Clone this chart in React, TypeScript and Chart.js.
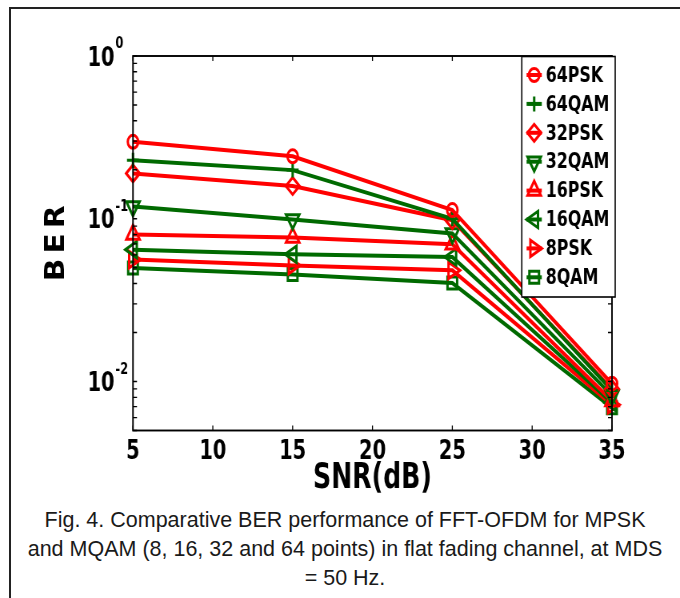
import React, { useEffect, useRef } from 'react';
import { Chart, registerables } from 'chart.js';
import { drawPoint } from 'chart.js/helpers';

Chart.register(...registerables);

// ---------- data ----------
const SNR_DB = [5, 15, 25, 35];
const SERIES_NAMES = ['64PSK', '64QAM', '32PSK', '32QAM', '16PSK', '16QAM', '8PSK', '8QAM'];
const BER_64PSK = [0.297, 0.242, 0.113, 0.0097];
const BER_64QAM = [0.229, 0.199, 0.1, 0.0088];
const BER_32PSK = [0.19, 0.159, 0.098, 0.009];
const BER_32QAM = [0.119, 0.0989, 0.0811, 0.0082];
const BER_16PSK = [0.08, 0.0766, 0.0697, 0.0076];
const BER_16QAM = [0.0646, 0.0605, 0.0582, 0.0074];
const BER_8PSK = [0.0561, 0.0517, 0.0482, 0.0072];
const BER_8QAM = [0.0498, 0.0455, 0.0403, 0.0069];
const SERIES_VALUES = [BER_64PSK, BER_64QAM, BER_32PSK, BER_32QAM, BER_16PSK, BER_16QAM, BER_8PSK, BER_8QAM];

const X_MIN = 5;
const X_MAX = 35;
const X_STEP = 5;
const X_TICKS = [5, 10, 15, 20, 25, 30, 35];
const Y_MIN = 0.005;
const Y_MAX = 1;
const Y_DECADES = [1, 0.1, 0.01];
const Y_EXPONENTS = ['0', '-1', '-2'];

const X_TITLE = 'SNR(dB)';
const Y_TITLE = 'BER';
const CAPTION_LINES = [
  'Fig. 4. Comparative BER performance of FFT-OFDM for MPSK',
  'and MQAM (8, 16, 32 and 64 points) in flat fading channel, at MDS',
  '= 50 Hz.',
];

// ---------- styles ----------
const K = 0.8; // horizontal squeeze of the figure
const W = 850;
const H = 500;
const FONT = "'DejaVu Sans Condensed', 'DejaVu Sans', sans-serif";
const RED = '#ff0000';
const GREEN = '#006a00';
const STYLES = [
  { color: RED, pointStyle: 'circle', rotation: 0, radius: 6.5 },
  { color: GREEN, pointStyle: 'cross', rotation: 0, radius: 7.5 },
  { color: RED, pointStyle: 'rectRot', rotation: 0, radius: 8.5 },
  { color: GREEN, pointStyle: 'triangle', rotation: 180, radius: 9.5 },
  { color: RED, pointStyle: 'triangle', rotation: 0, radius: 9.5 },
  { color: GREEN, pointStyle: 'triangle', rotation: 270, radius: 9.5 },
  { color: RED, pointStyle: 'triangle', rotation: 90, radius: 9.5 },
  { color: GREEN, pointStyle: 'rect', rotation: 0, radius: 8.5 },
];

const framePlugin = {
  id: 'frame',
  afterDatasetsDraw(chart: any) {
    const { ctx, chartArea: a, scales } = chart;
    const xs = scales.x;
    const ys = scales.y;
    ctx.save();

    // inward tick marks
    ctx.strokeStyle = '#000';
    ctx.lineWidth = 1.3;
    ctx.beginPath();
    for (const v of X_TICKS) {
      const px = xs.getPixelForValue(v);
      ctx.moveTo(px, a.bottom);
      ctx.lineTo(px, a.bottom - 5);
      ctx.moveTo(px, a.top);
      ctx.lineTo(px, a.top + 5);
    }
    const yTicks: number[] = [];
    for (let e = -3; e <= 0; e++) {
      for (let m = 1; m <= 9; m++) {
        const v = m * Math.pow(10, e);
        if (v >= Y_MIN * 0.999 && v <= Y_MAX * 1.001) yTicks.push(v);
      }
    }
    for (const v of yTicks) {
      const py = ys.getPixelForValue(v);
      ctx.moveTo(a.left, py);
      ctx.lineTo(a.left + 5, py);
      ctx.moveTo(a.right, py);
      ctx.lineTo(a.right - 5, py);
    }
    ctx.stroke();

    // frame
    ctx.lineWidth = 1.9;
    ctx.strokeRect(a.left, a.top, a.right - a.left, a.bottom - a.top);

    // y tick labels with superscripts
    ctx.fillStyle = '#000';
    Y_DECADES.forEach((v, i) => {
      const py = ys.getPixelForValue(v);
      ctx.font = `bold 27px ${FONT}`;
      ctx.textAlign = 'right';
      ctx.textBaseline = 'middle';
      ctx.fillText('10', a.left - 23, py + 2.5);
      ctx.font = `bold 16px ${FONT}`;
      ctx.textAlign = 'left';
      ctx.fillText(Y_EXPONENTS[i], a.left - 22, py - 12);
    });

    // y title
    ctx.save();
    ctx.translate(71, (a.top + a.bottom) / 2);
    ctx.rotate(-Math.PI / 2);
    ctx.font = `bold 33px ${FONT}`;
    ctx.textAlign = 'center';
    ctx.textBaseline = 'middle';
    (ctx as any).letterSpacing = '5px';
    ctx.fillText(Y_TITLE, 2.5, 0);
    ctx.restore();

    // legend
    const lx0 = a.left + 486;
    const lx1 = a.right + 4;
    const ly0 = a.top + 0.5;
    const ly1 = a.top + 241;
    ctx.fillStyle = '#fff';
    ctx.fillRect(lx0, ly0, lx1 - lx0, ly1 - ly0);
    ctx.strokeStyle = '#000';
    ctx.lineWidth = 1.6;
    ctx.strokeRect(lx0, ly0, lx1 - lx0, ly1 - ly0);
    SERIES_NAMES.forEach((name, i) => {
      const st = STYLES[i];
      const cy = ly0 + 18.5 + i * 28.9;
      const cx = lx0 + 15.5;
      ctx.strokeStyle = st.color;
      ctx.lineWidth = 4;
      ctx.beginPath();
      ctx.moveTo(lx0 + 6, cy);
      ctx.lineTo(lx0 + 25, cy);
      ctx.stroke();
      ctx.fillStyle = 'rgba(0,0,0,0)';
      ctx.lineWidth = 3;
      drawPoint(ctx, { pointStyle: st.pointStyle, rotation: st.rotation, radius: st.radius, borderWidth: 3 } as any, cx, cy);
      ctx.fillStyle = '#000';
      ctx.font = `bold 22px ${FONT}`;
      ctx.textAlign = 'left';
      ctx.textBaseline = 'middle';
      ctx.fillText(name, lx0 + 30, cy + 1);
    });

    ctx.restore();
  },
};

export default function App() {
  const ref = useRef<HTMLCanvasElement>(null);

  useEffect(() => {
    const datasets = SERIES_NAMES.map((name, i) => {
      const st = STYLES[i];
      return {
        label: name,
        data: SNR_DB.map((x, j) => ({ x, y: SERIES_VALUES[i][j] })),
        borderColor: st.color,
        backgroundColor: st.color,
        borderWidth: 4,
        pointStyle: st.pointStyle,
        pointRotation: st.rotation,
        pointRadius: st.radius,
        pointBorderWidth: 3,
        pointBorderColor: st.color,
        pointBackgroundColor: 'rgba(0,0,0,0)',
        tension: 0,
        clip: false,
      };
    });
    const chart = new Chart(ref.current as HTMLCanvasElement, {
      type: 'line',
      data: { datasets: datasets as any },
      options: {
        responsive: false,
        animation: false,
        devicePixelRatio: 1,
        layout: { padding: { left: 166.25, right: W - 765, top: 56, bottom: 0 } },
        plugins: { legend: { display: false }, tooltip: { enabled: false }, title: { display: false } },
        scales: {
          x: {
            type: 'linear',
            min: X_MIN,
            max: X_MAX,
            afterFit: (s: any) => {
              s.height = H - 430.5;
            },
            ticks: {
              stepSize: X_STEP,
              color: '#000',
              padding: 5,
              font: { family: FONT, weight: 'bold', size: 27 },
            },
            grid: { display: false, drawTicks: false },
            border: { display: false },
            title: {
              display: true,
              text: X_TITLE,
              color: '#000',
              font: { family: FONT, weight: 'bold', size: 35 },
              padding: { top: 0, bottom: 0 },
            },
          },
          y: {
            type: 'logarithmic',
            min: Y_MIN,
            max: Y_MAX,
            display: false,
          },
        },
      } as any,
      plugins: [framePlugin],
    });
    return () => chart.destroy();
  }, []);

  return (
    <div style={{ position: 'absolute', left: 0, top: 0, width: 680, height: 598, overflow: 'hidden', background: '#fff' }}>
      <div
        style={{
          position: 'absolute',
          left: 9,
          top: 7,
          width: 671,
          height: 591,
          borderLeft: '2px solid #222',
          borderTop: '2px solid #222',
          boxSizing: 'border-box',
        }}
      />
      <div style={{ position: 'absolute', left: 0, top: 0, width: W, height: H, transform: `scale(${K}, 1)`, transformOrigin: '0 0' }}>
        <canvas ref={ref} width={W} height={H} style={{ display: 'block' }} />
      </div>
      <div
        style={{
          position: 'absolute',
          left: 10,
          width: 670,
          top: 506,
          fontFamily: "'Liberation Sans', Arial, sans-serif",
          fontSize: 21.5,
          lineHeight: '29px',
          textAlign: 'center',
          color: '#1a1a1a',
          whiteSpace: 'nowrap',
        }}
      >
        {CAPTION_LINES.map((l, i) => (
          <div key={i}>{l}</div>
        ))}
      </div>
    </div>
  );
}
